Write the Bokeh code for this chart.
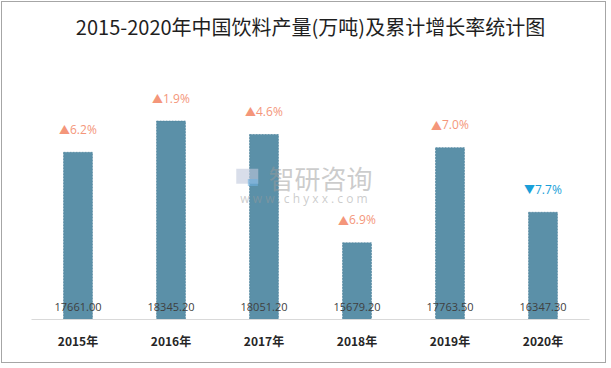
from bokeh.plotting import figure
from bokeh.models import FactorRange, Range1d, Label, ColumnDataSource
from bokeh.core.properties import value
from bokeh.embed import file_html
from bokeh.resources import INLINE

# ---- data ----
years = ["2015年", "2016年", "2017年", "2018年", "2019年", "2020年"]
production = [17661.00, 18345.20, 18051.20, 15679.20, 17763.50, 16347.30]
growth = [6.2, 1.9, 4.6, 6.9, 7.0, -7.7]

Y_START, Y_END = 14000, 20000
BAR_COLOR = "#5B90A8"
UP_COLOR = "#F4967A"
DOWN_COLOR = "#1A9FD9"

arrow_text = ["▲" if g >= 0 else "▼" for g in growth]
growth_text = [f"{abs(g):.1f}%" for g in growth]
growth_color = [UP_COLOR if g >= 0 else DOWN_COLOR for g in growth]
value_text = [f"{v:.2f}" for v in production]

src = ColumnDataSource(dict(
    x=years, top=production, bottom=[Y_START] * len(years),
    arrow=arrow_text, gtext=growth_text, gcolor=growth_color, vtext=value_text,
))

p = figure(
    x_range=FactorRange(*years), y_range=Range1d(Y_START, Y_END),
    width=605, height=362, output_backend="svg", toolbar_location=None,
    min_border_left=29, min_border_right=18, min_border_top=43, min_border_bottom=45,
)
# outer chart border (CSS border around the plot element)
p.styles = {"border": "1px solid #A6A6A6", "margin-left": "1px", "margin-top": "1px"}

p.title.text = "2015-2020年中国饮料产量(万吨)及累计增长率统计图"
p.title.align = "center"
p.title.text_font = "Noto Sans CJK SC"
p.title.text_font_size = "20px"
p.title.text_font_style = "normal"
p.title.text_color = "#1F1F1F"

p.vbar(x="x", top="top", bottom="bottom", width=0.31, source=src,
       fill_color=BAR_COLOR, line_color="#4C829B", line_alpha=0.7,
       line_dash="2 1", line_width=1)

# value labels near the baseline
p.text(x="x", y="bottom", text="vtext", source=src, y_offset=-13,
       text_align="center", text_baseline="middle",
       text_font=value("Open Sans"), text_font_size="11px", text_color="#404040")

# growth labels above bars: arrow + percentage
p.text(x="x", y="top", text="arrow", source=src, y_offset=-23, x_offset=-8,
       text_align="right", text_baseline="middle",
       text_font=value("Noto Sans CJK SC"), text_font_size="11px", text_color="gcolor")
p.text(x="x", y="top", text="gtext", source=src, y_offset=-23, x_offset=-8,
       text_align="left", text_baseline="middle",
       text_font=value("Open Sans"), text_font_size="12px", text_color="gcolor")

# watermark
p.rect(x=[2.32], y=[17138], width=22, height=15, width_units="screen", height_units="screen",
       fill_color="#BFC8DC", fill_alpha=0.6, line_color=None)
p.rect(x=[2.38], y=[17000], width=10, height=7, width_units="screen", height_units="screen",
       fill_color="#6FB0E0", fill_alpha=0.6, line_color=None)
p.add_layout(Label(x=3.107, y=17116, text="智研咨询", text_font="Noto Sans CJK SC",
                   text_font_size="26px", text_color="#9A9A9A", text_alpha=0.5,
                   text_align="center", text_baseline="middle"))
p.add_layout(Label(x=2.93, y=16658, text="w w w . c h y x x . c o m", text_font="Open Sans",
                   text_font_size="12px", text_color="#9A9A9A", text_alpha=0.5,
                   text_align="center", text_baseline="middle"))

p.xaxis.major_tick_line_color = None
p.xaxis.minor_tick_line_color = None
p.xaxis.axis_line_color = "#D9D9D9"
p.xaxis.major_label_text_font = "Noto Sans CJK SC"
p.xaxis.major_label_text_font_style = "bold"
p.xaxis.major_label_text_font_size = "12px"
p.xaxis.major_label_text_color = "#262626"
p.xaxis.major_label_standoff = 6
p.yaxis.visible = False
p.xgrid.visible = False
p.ygrid.visible = False
p.outline_line_color = None

open("out.html", "w").write(file_html(p, INLINE))
